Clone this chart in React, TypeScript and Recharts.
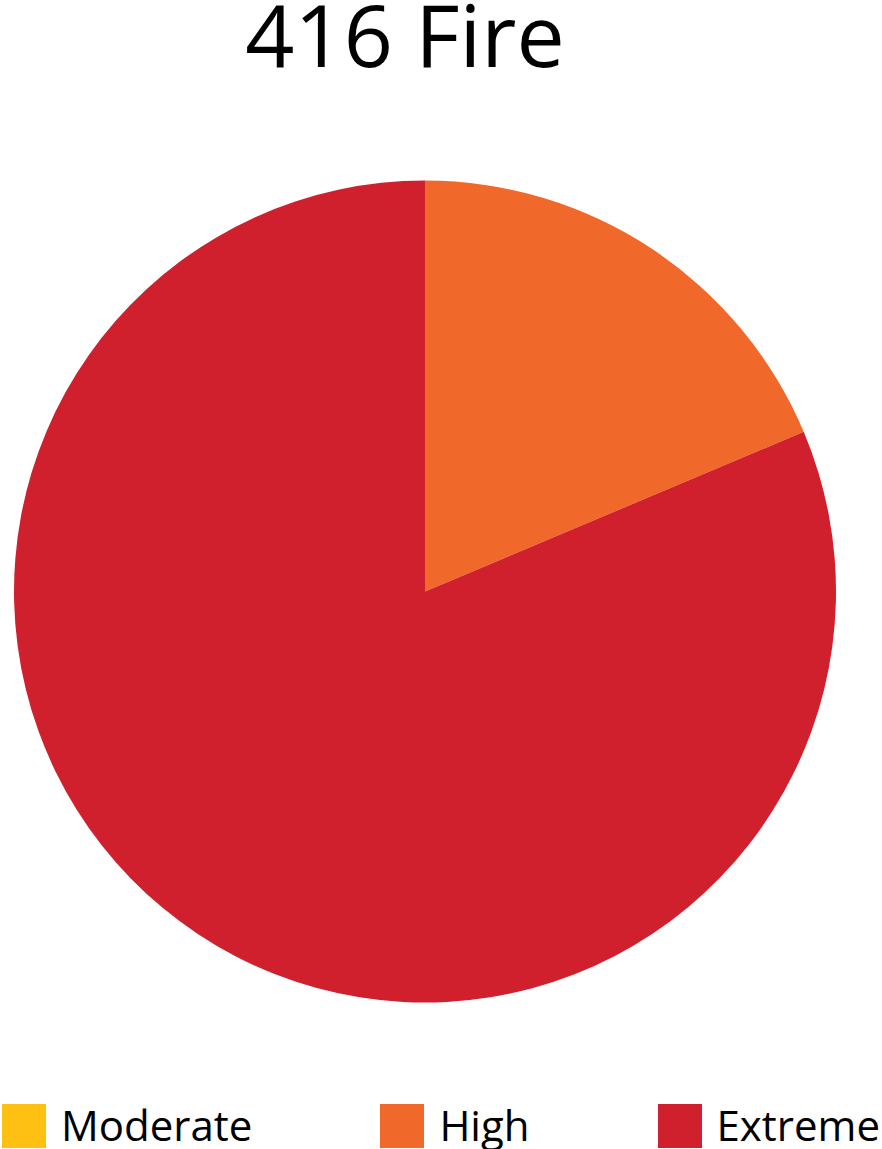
import React from "react";
import { Cell, Legend, Pie, PieChart } from "recharts";

const title = "416 Fire";
const categories = ["Moderate", "High", "Extreme"];
const shares = [0, 18.65, 81.35];
const colors = ["#FEC013", "#F0682A", "#D1202D"];

const data = categories.map((name, i) => ({ name, value: shares[i] }));

const FONT = "'Open Sans', 'Noto Sans', sans-serif";

function LegendRow() {
  return (
    <div
      style={{
        display: "flex",
        alignItems: "center",
        gap: 128,
        fontFamily: FONT,
        fontSize: 42,
        color: "#000",
      }}
    >
      {categories.map((name, i) => (
        <div key={name} style={{ display: "flex", alignItems: "center", height: 44 }}>
          <span
            style={{
              display: "inline-block",
              width: 44,
              height: 44,
              background: colors[i],
              marginRight: 15,
            }}
          />
          <span style={{ lineHeight: "44px", position: "relative", top: -1 }}>{name}</span>
        </div>
      ))}
    </div>
  );
}

export default function App() {
  return (
    <div style={{ position: "absolute", left: 0, top: 0, width: 882, height: 1149, background: "#fff" }}>
      <svg width={882} height={100} style={{ position: "absolute", left: 0, top: 0 }}>
        <text x={405} y={67} textAnchor="middle" fontFamily={FONT} fontSize={86} fill="#000">
          {title}
        </text>
      </svg>
      <div style={{ position: "absolute", left: 0, top: 0 }}>
        <PieChart width={882} height={1149} margin={{ top: 0, right: 0, bottom: 0, left: 0 }}>
          <Pie
            data={data}
            dataKey="value"
            nameKey="name"
            cx={425}
            cy={591.5}
            outerRadius={411}
            startAngle={90}
            endAngle={-270}
            stroke="none"
            isAnimationActive={false}
          >
            {data.map((d, i) => (
              <Cell key={d.name} fill={colors[i]} />
            ))}
          </Pie>
          <Legend
            content={() => <LegendRow />}
            wrapperStyle={{ position: "absolute", left: 2, top: 1104, width: 880 }}
          />
        </PieChart>
      </div>
    </div>
  );
}
